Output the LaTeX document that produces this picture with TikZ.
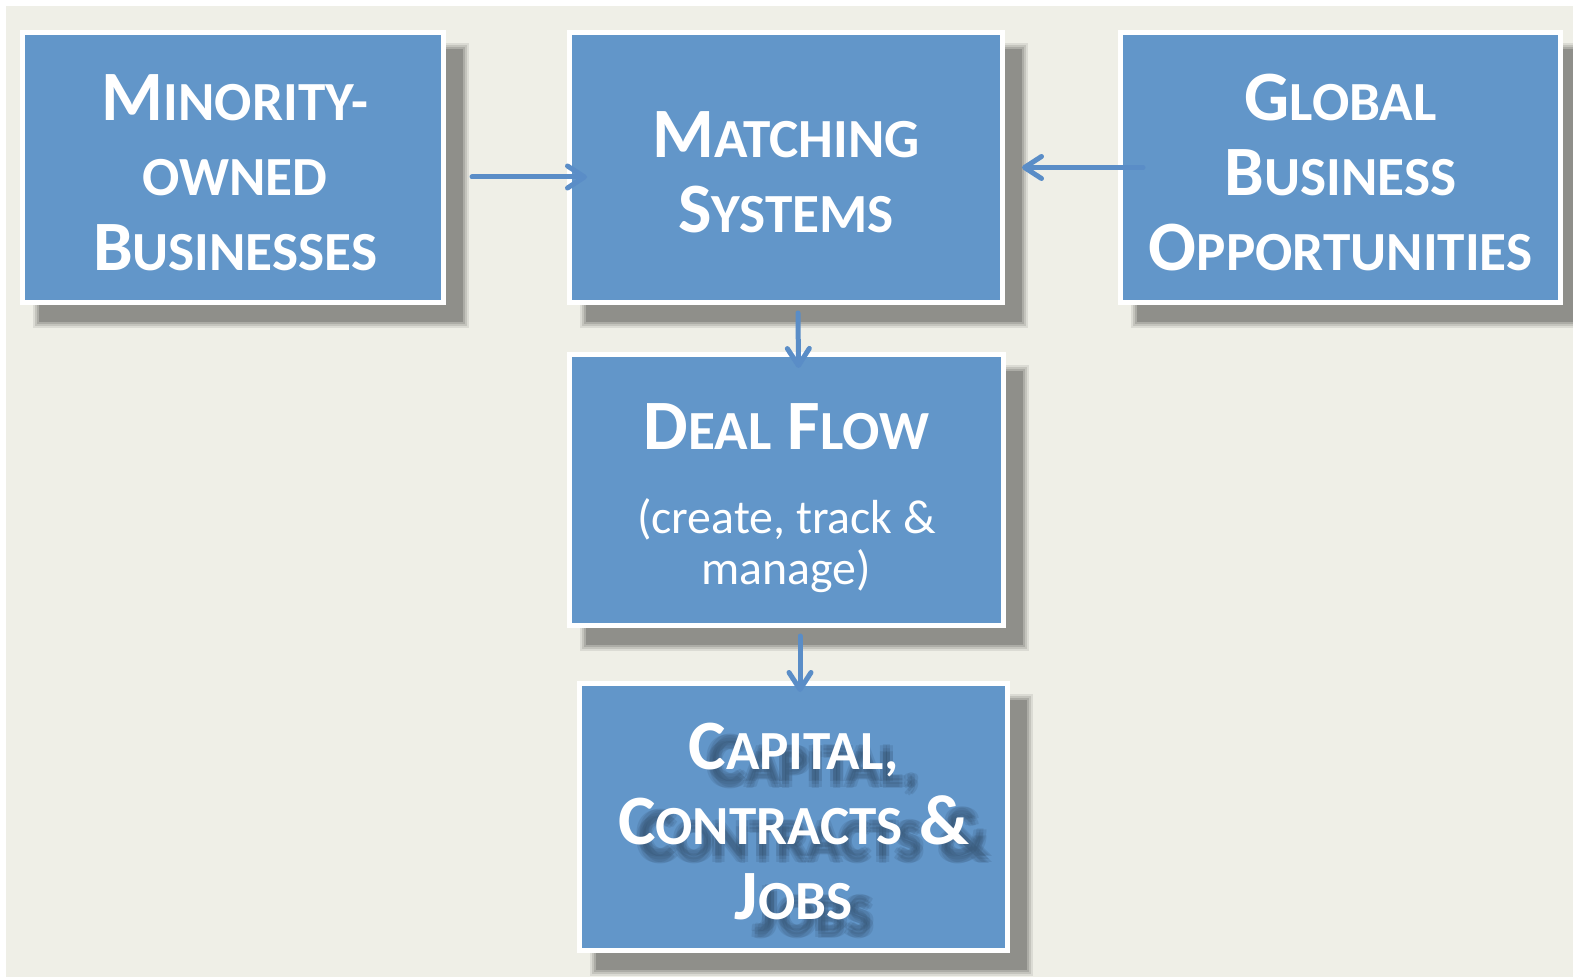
\documentclass[tikz,border=0pt]{standalone}
\usepackage{fontspec}
\setmainfont{Carlito}
\usetikzlibrary{arrows.meta}
\definecolor{bgc}{HTML}{EFEFE7}
\definecolor{boxc}{HTML}{6296C9}
\definecolor{arrc}{HTML}{5A8DC7}
\definecolor{shc}{HTML}{8F8F8A}
\definecolor{tsh}{HTML}{2F4A66}
\pgfdeclarelayer{bglayer}
\pgfdeclarelayer{shlayer}
\pgfsetlayers{bglayer,shlayer,main}
\newcommand\Cap[1]{{\fontsize{35.4pt}{37.5pt}\selectfont #1}}
\newcommand\Sml[1]{{\fontsize{27.6pt}{37.5pt}\selectfont #1}}
\newcommand\Sub[1]{{\mdseries\fontsize{23.9pt}{25.5pt}\selectfont #1}}
\newcommand\CapText{\Cap{C}\Sml{APITAL,}\\\Cap{C}\Sml{ONTRACTS} \Cap{\&}\\\Cap{J}\Sml{OBS}}
\begin{document}
\begin{tikzpicture}[x=0.5pt,y=-0.5pt,
  box/.style={draw=white, line width=2.5pt, fill=boxc, inner sep=0pt},
  boxtext/.style={text=white, align=center, inner sep=0pt,
    font=\fontsize{35.4pt}{37.5pt}\selectfont\bfseries},
  arr/.style={draw=arrc, line width=2.5pt, line cap=round,
    -{Straight Barb[length=8.5pt,width=11pt,round]}},
  tshadow/.style={boxtext, text=tsh, opacity=0.16}]
\useasboundingbox (0,0) rectangle (1573,977);
\begin{pgfonlayer}{bglayer}
\fill[white] (0,0) rectangle (1573,977);
\fill[bgc] (6,6) rectangle (1573,977);
\end{pgfonlayer}

\node[box, minimum width=210.5pt, minimum height=135pt] (min) at (233,167.5) {};
\node[box, minimum width=216.5pt, minimum height=135pt] (match) at (786,167.5) {};
\node[box, minimum width=220pt, minimum height=135pt] (glob) at (1340.5,167.5) {};
\node[box, minimum width=217pt, minimum height=135.5pt] (deal) at (786.5,490) {};
\node[box, minimum width=214pt, minimum height=133.5pt] (cap) at (793.5,817) {};

\node[boxtext] (mintext) at ([xshift=1pt,yshift=-2.5pt]min.center)
  {\Cap{M}\Sml{INORITY-}\\\Sml{OWNED}\\\Cap{B}\Sml{USINESSES}};
\node[boxtext] (matchtext) at ([yshift=-2.5pt]match.center)
  {\Cap{M}\Sml{ATCHING}\\\Cap{S}\Sml{YSTEMS}};
\node[boxtext] (globtext) at ([yshift=-2.5pt]glob.center)
  {\Cap{G}\Sml{LOBAL}\\\Cap{B}\Sml{USINESS}\\\Cap{O}\Sml{PPORTUNITIES}};
\node[boxtext] (dealtext) at ([yshift=-4pt]deal.center)
  {\Cap{D}\Sml{EAL} \Cap{F}\Sml{LOW}\\[4.5pt]\Sub{(create, track \&}\\[-12pt]\Sub{manage)}};

\foreach \dx/\dy [count=\i] in {17/17,23/23,17/23,23/17,20/20,20/16,20/24}
  \node[tshadow] (tsh\i) at ([shift={(\dx,\dy)}]cap.center) {\CapText};
\node[boxtext] (captext) at ([yshift=-2.5pt]cap.center) {\CapText};

\begin{pgfonlayer}{shlayer}
\foreach \b in {min,match,glob,deal,cap}
  \foreach \k/\o in {5/0.2,3/0.3,1/0.45,-1/1}
    \fill[shc, opacity=\o] ([shift={(18-\k,18-\k)}]\b.north west)
      rectangle ([shift={(18+\k,18+\k)}]\b.south east);
\end{pgfonlayer}

\coordinate (dstart) at ([xshift=6.75pt,yshift=-4pt]deal.south);
\coordinate (dend) at ([yshift=-5.5pt]cap.north);
\draw[arr] ([xshift=13pt,yshift=-4.75pt]min.east) -- ([xshift=10pt,yshift=-4.75pt]match.west);
\draw[arr] ([xshift=12.5pt]glob.west) -- ([xshift=8.5pt]match.east);
\draw[arr] ([xshift=6pt,yshift=-4pt]match.south) -- ([xshift=6pt,yshift=-8pt]deal.north);
\draw[arr] (dstart) -- (dstart |- dend);
\end{tikzpicture}
\end{document}
